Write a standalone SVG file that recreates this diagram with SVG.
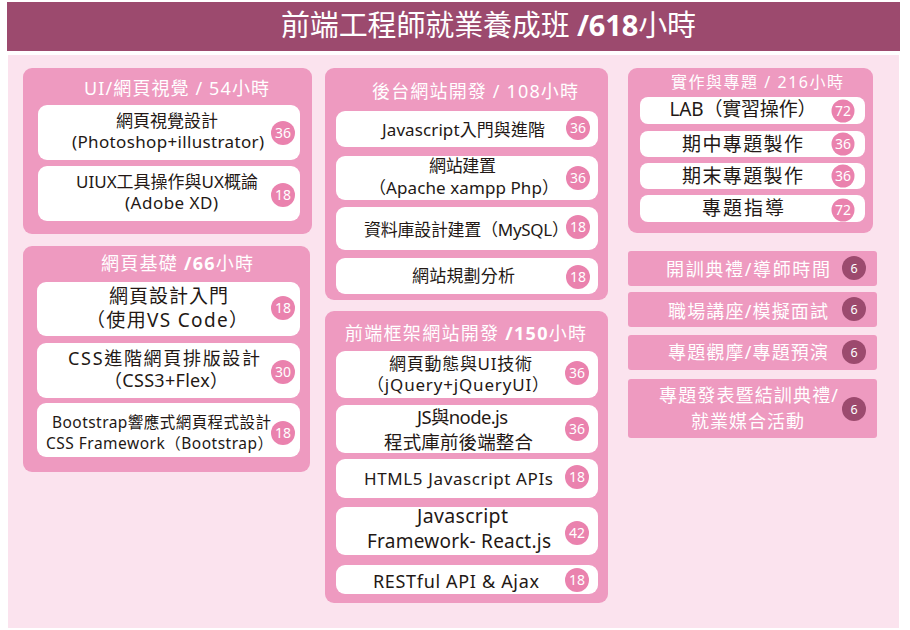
<svg xmlns="http://www.w3.org/2000/svg" width="910" height="630" viewBox="0 0 910 630">
<style>
text{font-family:"Noto Sans","Noto Sans CJK TC",sans-serif;}
.panel{fill:#ee9ac0;}
.box{fill:#ffffff;}
.ptitle{fill:#ffffff;font-size:18px;text-anchor:middle;}
.t{fill:#231815;text-anchor:middle;font-size:17px;}
.badge{fill:#ea82ae;}
.bt{fill:#ffffff;font-size:14px;text-anchor:middle;}
.dbadge{fill:#9c4a6e;}
.dt{fill:#ffffff;font-size:12.5px;text-anchor:middle;}
.wt{fill:#ffffff;text-anchor:middle;font-size:18px;}
.b{font-weight:bold;}
</style>
<rect x="0" y="0" width="910" height="630" fill="#ffffff"/>
<rect x="8" y="55" width="891" height="573" fill="#fbe3ee"/>
<g id="header">
<rect x="7" y="2" width="893" height="49" fill="#9c4a6e"/>
<text x="488.5" y="36" fill="#ffffff" font-size="29" text-anchor="middle" textLength="415" lengthAdjust="spacing">前端工程師就業養成班 <tspan class="b">/618</tspan>小時</text>
</g>

<g id="panel-ui">
<rect class="panel" x="23" y="68" width="289" height="166" rx="9"/>
<text class="ptitle" x="176.5" y="95" textLength="185" lengthAdjust="spacing">UI/網頁視覺 / 54小時</text>
<rect class="box" x="38" y="105" width="262" height="55" rx="9"/>
<text class="t" x="167" y="127" textLength="102" lengthAdjust="spacing">網頁視覺設計</text>
<text class="t" x="168" y="148" textLength="192" lengthAdjust="spacing">(Photoshop+illustrator)</text>
<circle class="badge" cx="283" cy="133" r="12"/><text class="bt" x="283" y="138">36</text>
<rect class="box" x="38" y="166" width="262" height="55" rx="9"/>
<text class="t" x="167" y="188" textLength="182" lengthAdjust="spacing">UIUX工具操作與UX概論</text>
<text class="t" x="171.5" y="209" textLength="93" lengthAdjust="spacing">(Adobe XD)</text>
<circle class="badge" cx="283" cy="195" r="12"/><text class="bt" x="283" y="200">18</text>
</g>

<g id="panel-basic">
<rect class="panel" x="23" y="246" width="287" height="226" rx="9"/>
<text class="ptitle" x="177" y="270" textLength="152" lengthAdjust="spacing">網頁基礎 <tspan class="b">/66</tspan>小時</text>
<rect class="box" x="37" y="282" width="263" height="54" rx="9"/>
<text class="t" x="168.5" y="303" style="font-size:19px" textLength="119" lengthAdjust="spacing">網頁設計入門</text>
<text class="t" x="167" y="327" style="font-size:19px" textLength="162" lengthAdjust="spacing">（使用VS Code）</text>
<circle class="badge" cx="283" cy="308" r="12"/><text class="bt" x="283" y="313">18</text>
<rect class="box" x="37" y="343" width="263" height="55" rx="9"/>
<text class="t" x="164" y="365" style="font-size:18px" textLength="192" lengthAdjust="spacing">CSS進階網頁排版設計</text>
<text class="t" x="166" y="387" style="font-size:18px" textLength="124" lengthAdjust="spacing">（CSS3+Flex）</text>
<circle class="badge" cx="283" cy="372" r="12"/><text class="bt" x="283" y="377">30</text>
<rect class="box" x="37" y="403" width="263" height="54" rx="9"/>
<text class="t" x="161.5" y="428" style="font-size:15.5px" textLength="219" lengthAdjust="spacing">Bootstrap響應式網頁程式設計</text>
<text class="t" x="159.5" y="449" style="font-size:15.5px" textLength="227" lengthAdjust="spacing">CSS Framework（Bootstrap）</text>
<circle class="badge" cx="283" cy="433" r="12"/><text class="bt" x="283" y="438">18</text>
</g>

<g id="panel-backend">
<rect class="panel" x="325" y="68" width="283" height="232" rx="9"/>
<text class="ptitle" x="475" y="98" textLength="206" lengthAdjust="spacing">後台網站開發 / 108小時</text>
<rect class="box" x="336" y="111" width="262" height="36" rx="9"/>
<text class="t" x="463.5" y="136" textLength="163" lengthAdjust="spacing">Javascript入門與進階</text>
<circle class="badge" cx="578" cy="128" r="12"/><text class="bt" x="578" y="133">36</text>
<rect class="box" x="336" y="156" width="262" height="44" rx="9"/>
<text class="t" x="462.5" y="172" textLength="67" lengthAdjust="spacing">網站建置</text>
<text class="t" x="464" y="194" textLength="190" lengthAdjust="spacing">（Apache xampp Php）</text>
<circle class="badge" cx="578" cy="178" r="12"/><text class="bt" x="578" y="183">36</text>
<rect class="box" x="336" y="207" width="262" height="43" rx="9"/>
<text class="t" x="466.5" y="236" textLength="205" lengthAdjust="spacing">資料庫設計建置（MySQL）</text>
<circle class="badge" cx="578" cy="227" r="12"/><text class="bt" x="578" y="232">18</text>
<rect class="box" x="336" y="258" width="262" height="36" rx="9"/>
<text class="t" x="463.5" y="282" textLength="103" lengthAdjust="spacing">網站規劃分析</text>
<circle class="badge" cx="578" cy="277" r="12"/><text class="bt" x="578" y="282">18</text>
</g>

<g id="panel-frontend">
<rect class="panel" x="325" y="311" width="283" height="292" rx="9"/>
<text class="ptitle" x="465.5" y="340" textLength="241" lengthAdjust="spacing">前端框架網站開發 <tspan class="b">/150</tspan>小時</text>
<rect class="box" x="336" y="351" width="262" height="47" rx="9"/>
<text class="t" x="460.5" y="370" textLength="143" lengthAdjust="spacing">網頁動態與UI技術</text>
<text class="t" x="458" y="391" textLength="182" lengthAdjust="spacing">（jQuery+jQueryUI）</text>
<circle class="badge" cx="577" cy="373" r="12"/><text class="bt" x="577" y="378">36</text>
<rect class="box" x="336" y="405" width="262" height="48" rx="9"/>
<text class="t" x="462.5" y="424" style="font-size:18.5px" textLength="91" lengthAdjust="spacing">JS與node.js</text>
<text class="t" x="458.5" y="449" style="font-size:18.5px" textLength="149" lengthAdjust="spacing">程式庫前後端整合</text>
<circle class="badge" cx="577" cy="429" r="12"/><text class="bt" x="577" y="434">36</text>
<rect class="box" x="336" y="459" width="262" height="39" rx="9"/>
<text class="t" x="458.5" y="485" textLength="189" lengthAdjust="spacing">HTML5 Javascript APIs</text>
<circle class="badge" cx="577" cy="477" r="12"/><text class="bt" x="577" y="482">18</text>
<rect class="box" x="336" y="507" width="262" height="48" rx="9"/>
<text class="t" x="462.5" y="523" style="font-size:19.5px" textLength="91" lengthAdjust="spacing">Javascript</text>
<text class="t" x="459" y="548" style="font-size:19px" textLength="184" lengthAdjust="spacing">Framework- React.js</text>
<circle class="badge" cx="577" cy="533" r="12"/><text class="bt" x="577" y="538">42</text>
<rect class="box" x="336" y="565" width="262" height="29" rx="9"/>
<text class="t" x="456" y="588" style="font-size:18px" textLength="166" lengthAdjust="spacing">RESTful API &amp; Ajax</text>
<circle class="badge" cx="577" cy="580" r="12"/><text class="bt" x="577" y="585">18</text>
</g>

<g id="panel-project">
<rect class="panel" x="628" y="68" width="245" height="165" rx="9"/>
<text class="ptitle" x="757" y="88" style="font-size:16px" textLength="172" lengthAdjust="spacing">實作與專題 / 216小時</text>
<rect class="box" x="640" y="97" width="225" height="27" rx="8"/>
<text class="t" x="743" y="116" style="font-size:19px" textLength="147" lengthAdjust="spacing">LAB（實習操作）</text>
<circle class="badge" cx="843" cy="111" r="11.5"/><text class="bt" x="843" y="116">72</text>
<rect class="box" x="640" y="131" width="225" height="26" rx="8"/>
<text class="t" x="742.5" y="151" style="font-size:19px" textLength="121" lengthAdjust="spacing">期中專題製作</text>
<circle class="badge" cx="843" cy="144" r="11.5"/><text class="bt" x="843" y="149">36</text>
<rect class="box" x="640" y="163" width="225" height="26" rx="8"/>
<text class="t" x="742.5" y="183" style="font-size:19px" textLength="121" lengthAdjust="spacing">期末專題製作</text>
<circle class="badge" cx="843" cy="176" r="11.5"/><text class="bt" x="843" y="181">36</text>
<rect class="box" x="640" y="195" width="225" height="27" rx="8"/>
<text class="t" x="743" y="215" style="font-size:19px" textLength="82" lengthAdjust="spacing">專題指導</text>
<circle class="badge" cx="843" cy="210" r="11.5"/><text class="bt" x="843" y="215">72</text>
</g>

<g id="item-opening">
<rect class="panel" x="628" y="251" width="249" height="35" rx="3"/>
<text class="wt" x="748" y="276" textLength="164" lengthAdjust="spacing">開訓典禮/導師時間</text>
<circle class="dbadge" cx="854" cy="268" r="12"/><text class="dt" x="854" y="273">6</text>
</g>
<g id="item-lecture">
<rect class="panel" x="628" y="292" width="249" height="35" rx="3"/>
<text class="wt" x="748" y="318" textLength="160" lengthAdjust="spacing">職場講座/模擬面試</text>
<circle class="dbadge" cx="854" cy="309" r="12"/><text class="dt" x="854" y="314">6</text>
</g>
<g id="item-preview">
<rect class="panel" x="628" y="335" width="249" height="35" rx="3"/>
<text class="wt" x="748" y="359" textLength="160" lengthAdjust="spacing">專題觀摩/專題預演</text>
<circle class="dbadge" cx="854" cy="352" r="12"/><text class="dt" x="854" y="357">6</text>
</g>
<g id="item-final">
<rect class="panel" x="628" y="379" width="249" height="59" rx="3"/>
<text class="wt" x="748.5" y="402" textLength="179" lengthAdjust="spacing">專題發表暨結訓典禮/</text>
<text class="wt" x="747.5" y="428" textLength="113" lengthAdjust="spacing">就業媒合活動</text>
<circle class="dbadge" cx="854" cy="409" r="12"/><text class="dt" x="854" y="414">6</text>
</g>
<g id="connectors"></g>
</svg>
